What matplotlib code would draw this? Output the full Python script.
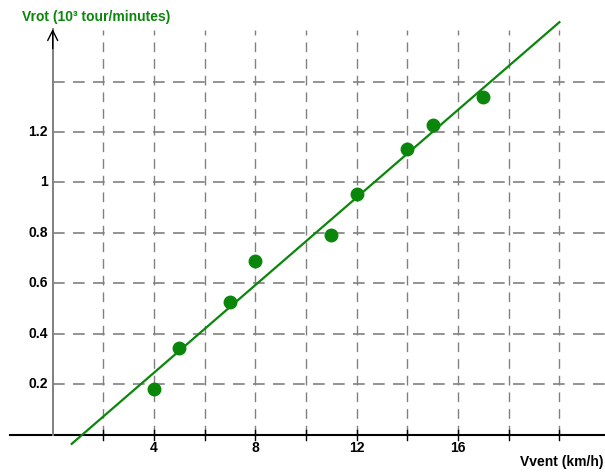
import matplotlib
matplotlib.use("Agg")
import matplotlib.pyplot as plt
import numpy as np

plt.rcParams['font.family'] = ['Liberation Sans', 'DejaVu Sans']

# Data
vvent = [4, 5, 7, 8, 11, 12, 14, 15, 17]
vrot = [0.18, 0.345, 0.527, 0.69, 0.79, 0.953, 1.133, 1.228, 1.34]
fit_slope = 0.0869
fit_intercept = -0.102
fit_x_range = [0.75, 20.0]
x_ticks = [4, 8, 12, 16]
x_grid = [2, 4, 6, 8, 10, 12, 14, 16, 18, 20]
y_ticks = [0.2, 0.4, 0.6, 0.8, 1.0, 1.2]
y_tick_labels = ["0.2", "0.4", "0.6", "0.8", "1", "1.2"]
y_grid = [0.2, 0.4, 0.6, 0.8, 1.0, 1.2, 1.4]

green = '#0a860a'
gridc = '#808080'

fig = plt.figure(figsize=(6.05, 4.72), dpi=100)
ax = fig.add_axes([0, 0, 1, 1])
ax.set_xlim(-2.08, 21.8)
ax.set_ylim(-0.1485, 1.724)
ax.axis('off')

# grid
for gx in x_grid:
    ax.plot([gx, gx], [0, 1.605], color=gridc, lw=1.0, ls=(0, (7, 5)), zorder=1)
for gy in y_grid:
    ax.plot([0, 21.8], [gy, gy], color=gridc, lw=1.2, ls=(0, (7, 5)), zorder=1)

# axes
ax.plot([-1.7, 21.8], [0, 0], color='black', lw=1.5, zorder=2)
ax.plot([0, 0], [0, 1.61], color=gridc, lw=1.4, zorder=2)
ax.annotate('', xy=(0, 1.62), xytext=(0, 1.52),
            arrowprops=dict(arrowstyle='->', color='black', lw=1.0, mutation_scale=18))
ax.annotate('', xy=(21.95, 0), xytext=(21.3, 0),
            arrowprops=dict(arrowstyle='->', color='black', lw=1.0, mutation_scale=18))
for gx in x_grid:
    ax.plot([gx, gx], [-0.02, 0.02], color='black', lw=1.0, zorder=2)

# tick labels
for t in x_ticks:
    ax.text(t, -0.055, str(t), ha='center', va='center', fontsize=10, fontweight='bold')
for t, lab in zip(y_ticks, y_tick_labels):
    ax.text(-0.2, t, lab, ha='right', va='center', fontsize=10, fontweight='bold')

# fit line
fx = np.array(fit_x_range)
ax.plot(fx, fit_slope * fx + fit_intercept, color=green, lw=1.6, zorder=3)

# points
ax.plot(vvent, vrot, 'o', color=green, ms=9, zorder=4)

# labels
ax.text(-1.2, 1.655, 'Vrot (10³ tour/minutes)', color=green, fontsize=10,
        fontweight='bold', ha='left', va='center')
ax.text(21.75, -0.11, 'Vvent (km/h)', fontsize=10, fontweight='bold', ha='right', va='center')

fig.savefig('out.png', dpi=100)
